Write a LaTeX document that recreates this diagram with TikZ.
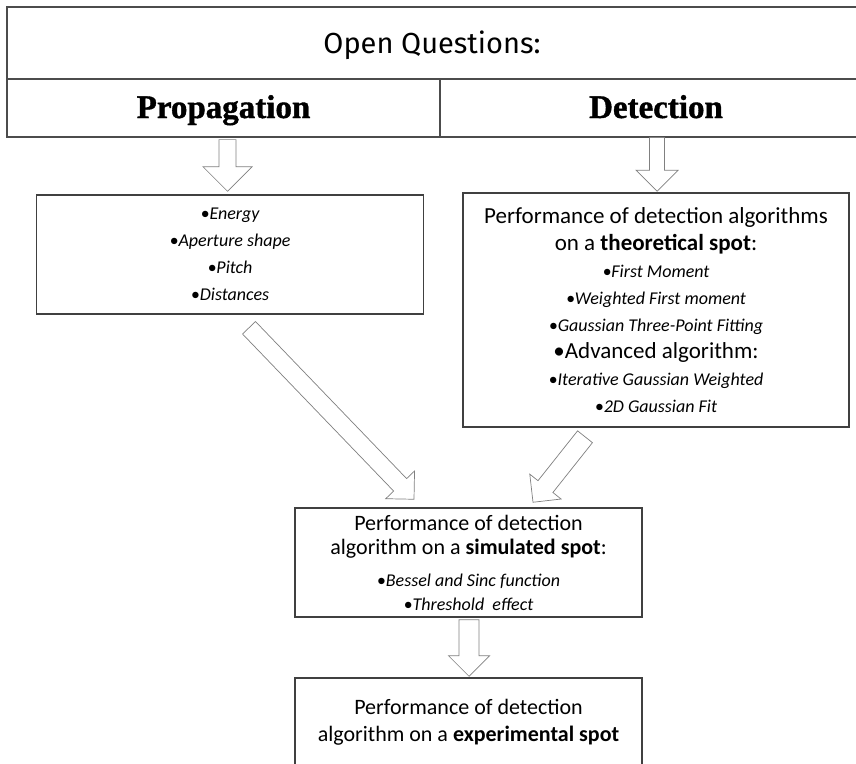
\documentclass[tikz,border=0pt]{standalone}
\usepackage{fontspec}
\setmainfont{Carlito}
\newfontfamily\headfont{Fira Sans}
\newfontfamily\boldserif{Liberation Serif}[BoldFeatures={FakeBold=1.2}]
\usetikzlibrary{calc}
\tikzset{
  cell/.style={draw=black!70,line width=1.2pt,inner sep=0pt,text height=24pt,text depth=4pt},
  box/.style={draw=black!75,line width=1.5pt,inner sep=0pt,align=center},
  blockarr/.style={draw=black!50,fill=white,line width=0.7pt,line join=miter}
}
% block arrow: from, to, half shaft width, half head width
\newcommand\blockarrow[4]{%
  \coordinate (bneck) at ($(#2)!#4pt!(#1)$);
  \draw[blockarr] ($(#1)!#3pt!90:(#2)$) -- ($(bneck)!#3pt!90:(#2)$)
    -- ($(bneck)!#4pt!90:(#2)$) -- (#2) -- ($(bneck)!#4pt!-90:(#2)$)
    -- ($(bneck)!#3pt!-90:(#2)$) -- ($(#1)!#3pt!-90:(#2)$) -- cycle;
}
\begin{document}
\begin{tikzpicture}[x=1pt,y=-1pt]
\useasboundingbox[fill=white] (0,0) rectangle (856,763);
% header
\node[cell,minimum width=850,minimum height=72,font=\headfont\fontsize{29}{34}\selectfont] (oq) at (432,43) {Open Questions:};
\node[cell,minimum width=433,minimum height=58,font=\boldserif\bfseries\fontsize{33}{38}\selectfont] (prop) at (223.5,108) {Propagation};
\node[cell,minimum width=432,minimum height=58,font=\boldserif\bfseries\fontsize{33}{38}\selectfont] (det) at (656,108) {Detection};
% boxes
\node[box,minimum width=387,minimum height=119,font=\fontsize{18}{27}\selectfont\itshape] (pbox) at (230,254.5)
  {•Energy\\•Aperture shape\\•Pitch\\•Distances};
\node[box,minimum width=386,minimum height=234,font=\fontsize{18}{27}\selectfont\itshape] (dbox) at (656,310)
  {{\upshape\fontsize{23}{28}\selectfont Performance of detection algorithms}\\
   {\upshape\fontsize{23}{28}\selectfont on a \textbf{theoretical spot}:}\\
   •First Moment\\•Weighted First moment\\•Gaussian Three-Point Fitting\\
   {\upshape\fontsize{23}{27}\selectfont •Advanced algorithm:}\\
   •Iterative Gaussian Weighted\\•2D Gaussian Fit};
\node[box,minimum width=347,minimum height=109,font=\fontsize{18}{24}\selectfont\itshape] (sbox) at (468.5,562.5)
  {{\upshape\fontsize{22}{25}\selectfont Performance of detection}\\
   {\upshape\fontsize{22}{25}\selectfont algorithm on a \textbf{simulated spot}:}\\[8pt]
   •Bessel and Sinc function\\•Threshold\ \ effect};
\node[box,minimum width=347,minimum height=88,font=\fontsize{22}{27}\selectfont] (ebox) at (468.5,722)
  {Performance of detection\\algorithm on a \textbf{experimental spot}};
% arrow ends
\path (prop.south) ++(4,2) coordinate (p1) (pbox.north) ++(-2.5,-3) coordinate (p2);
\path (det.south) ++(1,0) coordinate (d1) (dbox.north) ++(1,-1) coordinate (d2);
\path (pbox.south) ++(19,13) coordinate (l1) (sbox.north) ++(-54.5,-8) coordinate (l2);
\path (dbox.south) ++(-71,9) coordinate (r1) (sbox.north) ++(64.5,-5) coordinate (r2);
\path (sbox.south) ++(0.5,2) coordinate (s1) (ebox.north) ++(0.5,-1) coordinate (s2);
% arrows
\blockarrow{p1}{p2}{8.5}{24.5}
\blockarrow{d1}{d2}{7.5}{21}
\blockarrow{l1}{l2}{9}{20}
\blockarrow{r1}{r2}{9.5}{20}
\blockarrow{s1}{s2}{10}{20.5}
\end{tikzpicture}
\end{document}
